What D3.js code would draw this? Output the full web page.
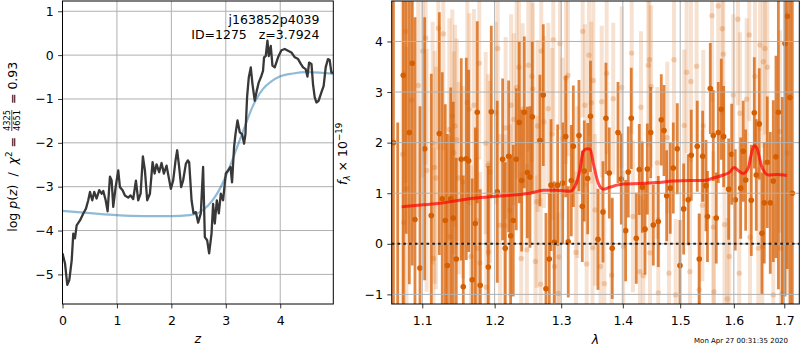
<!DOCTYPE html>
<html><head><meta charset="utf-8">
<script src="https://cdn.jsdelivr.net/npm/d3@7"></script>
<style>body{margin:0;background:#fff} svg text{font-family:"DejaVu Sans",sans-serif;fill:#000}</style>
</head><body><svg id="c" width="800" height="350"></svg>
<script>
// ---------- Left panel data: log p(z) ----------
const pzZ = [0.0,0.046,0.088,0.125,0.169,0.198,0.229,0.26,0.321,0.382,0.431,0.473,0.505,0.547,0.583,0.627,0.675,0.719,0.749,0.793,0.829,0.872,0.903,0.932,0.976,1.024,1.055,1.104,1.147,1.207,1.251,1.299,1.349,1.391,1.435,1.477,1.514,1.556,1.606,1.655,1.692,1.728,1.776,1.82,1.862,1.912,1.949,1.991,2.033,2.077,2.107,2.143,2.18,2.216,2.266,2.303,2.327,2.371,2.407,2.45,2.492,2.541,2.583,2.615,2.657,2.694,2.738,2.767,2.798,2.835,2.872,2.908,2.95,3.0,3.042,3.086,3.115,3.152,3.178,3.215,3.257,3.299,3.336,3.361,3.391,3.422,3.459,3.49,3.532,3.569,3.606,3.655,3.684,3.703,3.734,3.765,3.789,3.826,3.857,3.899,3.96,4.022,4.083,4.143,4.206,4.268,4.328,4.378,4.42,4.468,4.5,4.53,4.574,4.602,4.633,4.664,4.706,4.756,4.798,4.835,4.877,4.908,4.94,4.969];
const pzLog = [-4.52,-4.75,-5.24,-5.13,-4.68,-4.07,-4.18,-3.88,-3.77,-3.61,-3.5,-3.31,-3.12,-3.31,-3.12,-3.27,-3.08,-3.16,-3.1,-3.31,-3.56,-2.77,-2.86,-3.46,-3.01,-2.63,-3.01,-3.08,-3.2,-3.25,-3.2,-3.28,-2.86,-3.31,-3.16,-2.31,-2.63,-3.31,-3.16,-2.44,-2.7,-2.49,-2.67,-2.46,-2.7,-2.52,-2.77,-3.05,-2.86,-2.4,-2.17,-2.55,-3.01,-2.86,-2.48,-2.4,-2.44,-3.31,-3.61,-3.58,-3.82,-3.61,-2.55,-4.15,-4.22,-4.52,-4.07,-3.39,-3.84,-3.31,-3.61,-3.16,-3.31,-2.7,-2.63,-2.55,-2.9,-2.1,-1.8,-1.49,-1.76,-1.8,-2.02,-1.8,-0.96,-0.51,-0.28,-0.66,-1.04,-0.81,-0.62,-0.47,-0.36,-0.05,-0.02,0.33,-0.02,0.21,-0.24,-0.28,-0.05,0.11,0.14,0.1,0.06,-0.05,-0.09,-0.2,-0.28,-0.32,-0.49,-0.17,-0.2,-0.66,-0.96,-1.08,-1.04,-0.85,-0.7,-0.28,-0.09,-0.11,-0.4,-0.4];
const priorZ = [0.0,0.565,0.994,1.483,1.996,2.339,2.523,2.675,2.798,2.89,2.994,3.105,3.196,3.288,3.38,3.472,3.563,3.684,3.838,3.991,4.235,4.48,4.725,4.975];
const priorLog = [-3.55,-3.61,-3.65,-3.67,-3.67,-3.65,-3.58,-3.43,-3.24,-3.05,-2.78,-2.44,-2.14,-1.83,-1.53,-1.23,-1.0,-0.77,-0.6,-0.49,-0.42,-0.39,-0.4,-0.43];
const zTicks = [0,1,2,3,4];
const logTicks = [1,0,-1,-2,-3,-4,-5];

// ---------- Right panel data: spectrum ----------
const darkWave = [1.0625,1.0680,1.0752,1.0790,1.0830,1.0868,1.0904,1.0970,1.1032,1.1120,1.1228,1.1268,1.1309,1.1336,1.1383,1.1418,1.1459,1.1528,1.1556,1.1598,1.1631,1.1681,1.1724,1.1752,1.1794,1.1909,1.1952,1.2038,1.2116,1.2154,1.2204,1.2233,1.2272,1.2316,1.2361,1.2397,1.2436,1.2481,1.2521,1.2556,1.2672,1.2723,1.2764,1.2815,1.2842,1.2893,1.2945,1.3023,1.3071,1.3111,1.3159,1.3191,1.3281,1.3334,1.3366,1.3421,1.3466,1.3588,1.3670,1.3719,1.3774,1.3823,1.3919,1.3974,1.4048,1.4092,1.4143,1.4229,1.4280,1.4332,1.4379,1.4419,1.4477,1.4523,1.4610,1.4663,1.4711,1.4758,1.4822,1.4876,1.4948,1.4996,1.5063,1.5146,1.5201,1.5311,1.5348,1.5411,1.5473,1.5500,1.5553,1.5609,1.5665,1.5703,1.5760,1.5805,1.5900,1.5958,1.6027,1.6132,1.6182,1.6229,1.6339,1.6398,1.6437,1.6496,1.6550,1.6596,1.6656,1.6716,1.6777,1.6831,1.6880,1.6960,1.7015,1.7062,1.7117,1.7165];
const darkFlux = [2.0,-1.6,3.33,5.2,2.2,3.57,0.48,-0.48,1.88,0.56,2.18,0.89,0.46,-0.43,0.89,0.51,-0.3,1.67,-0.85,1.68,1.64,-0.71,0.4,2.6,-0.82,-0.46,2.61,1.03,1.67,-0.09,1.73,0.16,0.46,1.67,2.4,1.25,2.6,1.41,1.32,2.51,2.04,2.94,-0.89,-0.3,1.16,0.03,1.16,1.2,2.12,0.04,1.25,1.93,2.14,0.74,1.44,1.29,2.52,0.09,0.63,2.48,1.4,-0.09,2.2,1.28,0.26,1.42,2.48,0.11,1.47,1.12,0.29,1.48,2.2,0.37,0.44,2.45,2.24,0.95,1.1,1.5,1.88,-0.43,0.69,0.87,1.75,1.93,-0.3,1.73,1.15,0.54,3.07,2.14,0.51,2.2,2.66,2.12,1.08,1.77,0.87,1.1,1.83,1.26,0.86,2.59,1.36,2.37,0.21,0.81,1.61,0.81,1.24,1.72,2.6,-1.6,3.96,4.5,2.89,1.0];
const darkErr = [6.0,4.0,5.0,5.0,3.0,4.0,4.0,3.2,2.6,2.8,2.4,2.5,2.3,2.6,2.2,2.3,2.0,2.0,2.2,2.0,1.8,2.0,1.9,1.8,1.9,2.0,1.7,1.8,1.6,1.7,1.5,1.6,1.5,1.4,1.6,1.4,1.5,1.3,1.4,1.5,1.3,1.4,1.5,1.3,1.3,1.2,1.2,1.2,1.2,1.1,1.1,1.2,1.1,1.1,1.0,1.1,1.1,1.0,1.0,1.1,0.9,1.0,1.0,0.9,1.0,0.9,1.0,0.9,0.9,0.9,0.9,0.9,0.9,0.8,0.9,0.9,0.9,0.9,0.9,0.9,0.9,0.9,0.9,0.9,0.9,0.9,0.9,0.9,0.9,0.9,0.9,0.9,0.9,1.0,1.0,1.0,1.0,1.0,1.0,1.0,1.0,1.0,1.1,1.1,1.1,1.1,1.2,1.2,1.3,1.4,1.6,2.0,3.5,4.5,5.0,5.0,4.5,6.0];
const lightWave = [1.0744,1.0760,1.0783,1.0793,1.0860,1.0947,1.1005,1.1045,1.1058,1.1138,1.1150,1.1165,1.1183,1.1214,1.1282,1.1364,1.1373,1.1405,1.1425,1.1442,1.1465,1.1492,1.1548,1.1612,1.1640,1.1663,1.1705,1.1743,1.1755,1.1780,1.1790,1.1872,1.1880,1.1904,1.1913,1.1933,1.2019,1.2045,1.2077,1.2146,1.2160,1.2223,1.2240,1.2280,1.2322,1.2356,1.2390,1.2411,1.2475,1.2496,1.2550,1.2565,1.2604,1.2622,1.2637,1.2683,1.2692,1.2733,1.2800,1.2862,1.2877,1.2896,1.2955,1.2965,1.2981,1.3017,1.3075,1.3107,1.3233,1.3254,1.3340,1.3378,1.3405,1.3442,1.3479,1.3499,1.3512,1.3540,1.3629,1.3649,1.3692,1.3731,1.3813,1.3840,1.3981,1.4008,1.4150,1.4172,1.4292,1.4309,1.4349,1.4436,1.4456,1.4465,1.4483,1.4593,1.4610,1.4769,1.4799,1.4889,1.4919,1.5074,1.5117,1.5177,1.5195,1.5300,1.5348,1.5405,1.5422,1.5585,1.5609,1.5622,1.5703,1.5779,1.5798,1.5821,1.5874,1.5912,1.5989,1.6079,1.6104,1.6118,1.6249,1.6299,1.6313,1.6412,1.6477,1.6510,1.6556,1.6576,1.6610,1.6656,1.6777,1.6912,1.6932,1.6963,1.7049];
const lightFlux = [1.77,0.42,4.2,1.09,2.84,3.13,3.81,4.07,1.45,1.99,-0.29,1.51,1.3,4.26,4.15,2.26,0.14,2.53,1.8,2.33,2.06,1.3,1.22,2.79,2.66,-0.25,2.74,0.46,-0.09,3.57,-0.38,1.99,-0.86,1.55,-0.16,1.42,2.59,3.86,0.37,0.36,2.29,0.66,2.74,2.46,3.09,3.49,-0.29,2.66,-0.12,3.53,3.31,3.06,-0.35,0.83,2.33,-0.8,3.81,2.41,2.67,2.17,4.03,-0.45,-0.98,-0.26,3.96,2.08,3.28,3.33,-0.17,1.22,4.2,2.74,-0.4,3.73,2.79,-0.08,3.23,0.67,-0.45,2.81,-0.79,3.37,-0.62,2.87,3.09,-0.05,3.77,0.54,-0.55,2.7,-0.63,3.53,3.64,-0.18,3.11,1.6,-0.97,2.1,-0.58,3.64,-1.01,2.34,3.39,-0.55,3.21,3.51,-0.91,0.76,2.33,4.51,0.33,-0.95,4.7,4.25,3.75,0.38,-1.09,-0.25,2.94,4.44,-0.58,2.58,2.86,4.13,0.13,3.31,-0.09,3.93,-0.05,3.6,3.86,3.49,-1.01,2.22,-0.09,-0.98,1.79];
const lightErr = [3.5,3.0,3.0,2.8,2.8,2.6,2.5,2.5,2.4,2.4,2.2,2.3,2.2,2.4,2.3,2.2,2.0,2.1,2.0,2.0,2.0,1.9,1.9,2.0,1.9,1.8,1.9,1.8,1.8,1.9,1.8,1.8,1.8,1.8,1.8,1.8,1.8,1.9,1.8,1.8,1.8,1.7,1.8,1.7,1.8,1.8,1.7,1.7,1.7,1.7,1.7,1.7,1.7,1.7,1.7,1.7,1.8,1.7,1.7,1.7,1.8,1.6,1.6,1.5,1.7,1.6,1.7,1.6,1.6,1.5,1.7,1.6,1.6,1.6,1.6,1.5,1.6,1.5,1.5,1.5,1.5,1.6,1.5,1.5,1.6,1.5,1.6,1.5,1.5,1.5,1.5,1.6,1.6,1.5,1.6,1.5,1.5,1.5,1.5,1.6,1.5,1.5,1.6,1.5,1.6,1.6,1.5,1.5,1.5,1.7,1.5,1.5,1.7,1.7,1.7,1.6,1.6,1.6,1.6,1.7,1.6,1.6,1.6,1.7,1.6,1.7,1.6,1.7,1.7,1.7,1.7,1.8,1.8,2.0,2.2,2.4,2.8];
const modelWave = [1.0731,1.1014,1.1170,1.1465,1.1696,1.2029,1.2322,1.2521,1.2723,1.2930,1.3138,1.3218,1.3297,1.3350,1.3414,1.3458,1.3523,1.3593,1.3675,1.3785,1.4008,1.4292,1.4582,1.4876,1.5177,1.5422,1.5609,1.5798,1.5925,1.6002,1.6085,1.6182,1.6280,1.6346,1.6392,1.6445,1.6544,1.6676,1.6845,1.7049];
const modelFlux = [0.73,0.77,0.79,0.85,0.90,0.94,0.97,1.00,1.06,1.06,1.04,1.14,1.47,1.83,1.88,1.87,1.53,1.20,1.08,1.12,1.18,1.19,1.21,1.24,1.25,1.25,1.30,1.36,1.42,1.51,1.45,1.39,1.50,1.80,1.94,1.90,1.53,1.36,1.37,1.35];
const waveTicks = [1.1,1.2,1.3,1.4,1.5,1.6,1.7];
const fluxTicks = [4,3,2,1,0,-1];

const objName = "j163852p4039";
const objInfo = "ID=1275   z=3.7924";
const stamp = "Mon Apr 27 00:31:35 2020";

// ---------- drawing ----------
const svg = d3.select('#c');
const fs = 12.5;
const fmt = d => (d < 0 ? '\u2212' + Math.abs(d) : String(d));
const GRID = '#b0b0b0';
const SPEC = '#d55e00';

function frame(g, x0, x1, y0, y1) {
  g.append('rect').attr('x', x0).attr('y', y0).attr('width', x1 - x0).attr('height', y1 - y0)
    .attr('fill', 'none').attr('stroke', '#000').attr('stroke-width', 1);
}
function axes(xs, ys, xt, yt, xf, box) {
  const gx = svg.append('g').attr('transform', `translate(0,${box.y1})`)
    .call(d3.axisBottom(xs).tickValues(xt).tickSize(4.4).tickFormat(xf));
  gx.select('.domain').remove();
  gx.selectAll('line').attr('stroke', '#000').attr('stroke-width', 0.8);
  gx.selectAll('text').attr('y', 21).attr('dy', 0).attr('font-size', fs)
    .attr('font-family', 'DejaVu Sans').attr('fill', '#000');
  const gy = svg.append('g').attr('transform', `translate(${box.x0},0)`)
    .call(d3.axisLeft(ys).tickValues(yt).tickSize(4.4).tickPadding(4.4).tickFormat(fmt));
  gy.select('.domain').remove();
  gy.selectAll('line').attr('stroke', '#000').attr('stroke-width', 0.8);
  gy.selectAll('text').attr('font-size', fs).attr('font-family', 'DejaVu Sans').attr('fill', '#000');
}
function grid(g, xs, ys, xt, yt, box) {
  g.selectAll(null).data(xt).enter().append('line')
    .attr('x1', d => xs(d)).attr('x2', d => xs(d)).attr('y1', box.y0).attr('y2', box.y1)
    .attr('stroke', GRID).attr('stroke-width', 1);
  g.selectAll(null).data(yt).enter().append('line')
    .attr('y1', d => ys(d)).attr('y2', d => ys(d)).attr('x1', box.x0).attr('x2', box.x1)
    .attr('stroke', GRID).attr('stroke-width', 1);
}

// Left panel
const LB = {x0: 62.5, x1: 333.3, y0: 1, y1: 304};
const xz = d3.scaleLinear().domain([0, 4.975]).range([LB.x0, LB.x1]);
const yp = d3.scaleLinear().domain([-5.675, 1.234]).range([LB.y1, LB.y0]);
svg.append('clipPath').attr('id', 'clipL').append('rect')
  .attr('x', LB.x0).attr('y', LB.y0).attr('width', LB.x1 - LB.x0).attr('height', LB.y1 - LB.y0);
const gL = svg.append('g');
grid(gL, xz, yp, zTicks, logTicks, LB);
const plot = gL.append('g').attr('clip-path', 'url(#clipL)');
plot.append('path').datum(d3.zip(priorZ, priorLog))
  .attr('d', d3.line().x(d => xz(d[0])).y(d => yp(d[1])).curve(d3.curveMonotoneX))
  .attr('fill', 'none').attr('stroke', '#1f77b4').attr('stroke-opacity', 0.5).attr('stroke-width', 2.2);
plot.append('path').datum(d3.zip(pzZ, pzLog)).attr('d', d3.line().x(d => xz(d[0])).y(d => yp(d[1])))
  .attr('fill', 'none').attr('stroke', '#383838').attr('stroke-width', 2.3)
  .attr('stroke-linejoin', 'round');
frame(gL, LB.x0, LB.x1, LB.y0, LB.y1);
axes(xz, yp, zTicks, logTicks, fmt, LB);
gL.append('text').attr('x', 319.5).attr('y', 24).attr('text-anchor', 'end').attr('font-size', fs).text(objName);
gL.append('text').attr('x', 319.5).attr('y', 38.5).attr('text-anchor', 'end').attr('font-size', fs)
  .style('white-space', 'pre').text(objInfo);

// Left axis labels
svg.append('text').attr('x', 197.9).attr('y', 343).attr('text-anchor', 'middle').attr('font-size', fs)
  .attr('font-style', 'italic').text('z');
const gyl = svg.append('g').attr('transform', 'rotate(-90)');
const t1 = gyl.append('text').attr('x', -133).attr('y', 17).attr('text-anchor', 'end').attr('font-size', fs)
  .style('white-space', 'pre');
t1.append('tspan').text('log ');
t1.append('tspan').attr('font-style', 'italic').text('p');
t1.append('tspan').text('(');
t1.append('tspan').attr('font-style', 'italic').text('z');
t1.append('tspan').text(')  /  ');
t1.append('tspan').attr('font-style', 'italic').text('\u03c7');
t1.append('tspan').attr('font-size', 8.75).attr('dy', -5).text('2');
t1.append('tspan').attr('dy', 5).text(' = ');
gyl.append('text').attr('x', -120.5).attr('y', 9.5).attr('text-anchor', 'middle').attr('font-size', 8.3).text('4325');
gyl.append('line').attr('x1', -131).attr('x2', -110).attr('y1', 11.8).attr('y2', 11.8)
  .attr('stroke', '#000').attr('stroke-width', 0.7);
gyl.append('text').attr('x', -120.5).attr('y', 19.8).attr('text-anchor', 'middle').attr('font-size', 8.3).text('4651');
gyl.append('text').attr('x', -108).attr('y', 17).attr('font-size', fs).style('white-space', 'pre').text(' = 0.93');

// Right panel
const RB = {x0: 391.7, x1: 799.3, y0: 1, y1: 304};
const xw = d3.scaleLog().domain([1.0603, 1.731]).range([RB.x0, RB.x1]);
const yf = d3.scaleLinear().domain([-1.19, 4.80]).range([RB.y1, RB.y0]);
svg.append('clipPath').attr('id', 'clipR').append('rect')
  .attr('x', RB.x0).attr('y', RB.y0).attr('width', RB.x1 - RB.x0).attr('height', RB.y1 - RB.y0);
const gR = svg.append('g');
const pr = gR.append('g').attr('clip-path', 'url(#clipR)');
const light = d3.zip(lightWave, lightFlux, lightErr);
const dark = d3.zip(darkWave, darkFlux, darkErr);
pr.selectAll(null).data(light).enter().append('line')
  .attr('x1', d => xw(d[0])).attr('x2', d => xw(d[0]))
  .attr('y1', d => yf(d[1] - d[2])).attr('y2', d => yf(d[1] + d[2]))
  .attr('stroke', SPEC).attr('stroke-opacity', 0.18).attr('stroke-width', 4);
pr.selectAll(null).data(light).enter().append('circle')
  .attr('cx', d => xw(d[0])).attr('cy', d => yf(d[1])).attr('r', 2.7)
  .attr('fill', SPEC).attr('fill-opacity', 0.25);
pr.selectAll(null).data(dark).enter().append('line')
  .attr('x1', d => xw(d[0])).attr('x2', d => xw(d[0]))
  .attr('y1', d => yf(d[1] - d[2])).attr('y2', d => yf(d[1] + d[2]))
  .attr('stroke', SPEC).attr('stroke-opacity', 0.75).attr('stroke-width', 2.8);
pr.selectAll(null).data(dark).enter().append('circle')
  .attr('cx', d => xw(d[0])).attr('cy', d => yf(d[1])).attr('r', 2.8)
  .attr('fill', SPEC).attr('fill-opacity', 1);
grid(pr, xw, yf, waveTicks, fluxTicks, RB);
pr.append('path').datum(d3.zip(modelWave, modelFlux))
  .attr('d', d3.line().x(d => xw(d[0])).y(d => yf(d[1])).curve(d3.curveMonotoneX))
  .attr('fill', 'none').attr('stroke', 'red').attr('stroke-opacity', 0.7).attr('stroke-width', 3);
pr.append('line').attr('x1', RB.x0).attr('x2', RB.x1).attr('y1', yf(0)).attr('y2', yf(0))
  .attr('stroke', '#000').attr('stroke-opacity', 0.85).attr('stroke-width', 2).attr('stroke-dasharray', '2.6,3.2');
frame(gR, RB.x0, RB.x1, RB.y0, RB.y1);
axes(xw, yf, waveTicks, fluxTicks, d => d.toFixed(1), RB);

svg.append('text').attr('x', 595.5).attr('y', 344).attr('text-anchor', 'middle').attr('font-size', fs)
  .attr('font-style', 'italic').text('\u03bb');
const gyr = svg.append('g').attr('transform', 'rotate(-90)');
const t2 = gyr.append('text').attr('x', -185).attr('y', 347).attr('font-size', fs).style('white-space', 'pre');
t2.append('tspan').attr('font-style', 'italic').text('f');
t2.append('tspan').attr('font-style', 'italic').attr('font-size', 8.75).attr('dy', 2.5).text('\u03bb');
t2.append('tspan').attr('dy', -2.5).text(' \u00d7 10');
t2.append('tspan').attr('font-size', 8.75).attr('dy', -5).text('\u221219');

svg.append('text').attr('x', 788).attr('y', 343).attr('text-anchor', 'end').attr('font-size', 7).text(stamp);
</script></body></html>
